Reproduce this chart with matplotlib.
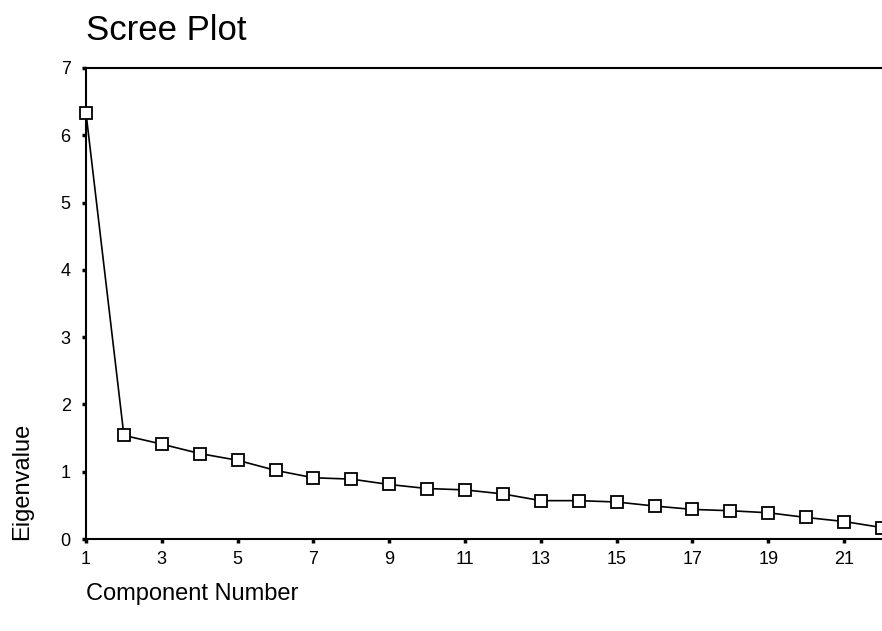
import matplotlib.pyplot as plt
import numpy as np

plt.rcParams["font.family"] = ["Liberation Sans", "DejaVu Sans"]

components = np.arange(1, 23)
eigenvalues = [6.33, 1.54, 1.41, 1.27, 1.17, 1.02, 0.91, 0.89, 0.81, 0.75, 0.73,
               0.67, 0.57, 0.57, 0.55, 0.49, 0.44, 0.42, 0.39, 0.32, 0.26, 0.17]
x_ticks = list(range(1, 23, 2))
y_ticks = list(range(0, 8))

W, H = 882, 631
fig = plt.figure(figsize=(W / 100, H / 100), dpi=100)
ax = fig.add_axes([86 / W, (H - 539) / H, 1 - 86 / W, (539 - 68) / H])

ax.plot(components, eigenvalues, color="black", linewidth=1.2,
        marker="s", markersize=8, markerfacecolor="white",
        markeredgecolor="black", markeredgewidth=1.3, clip_on=False, zorder=3)

ax.set_xlim(1, 22)
ax.set_ylim(0, 7)
ax.set_xticks(x_ticks)
ax.set_yticks(y_ticks)
ax.tick_params(axis="both", direction="out", length=3, width=2.5,
               labelsize=13, color="black")
ax.tick_params(axis="x", pad=6)
ax.tick_params(axis="y", pad=8)
ax.spines["right"].set_visible(False)
for side in ("left", "bottom", "top"):
    ax.spines[side].set_linewidth(1.5)

fig.text(86 / W, (H - 40) / H, "Scree Plot", fontsize=25, ha="left", va="baseline")
fig.text(86 / W, (H - 594) / H, "Component Number", fontsize=17, ha="left", va="center")
fig.text(22 / W, (H - 540) / H, "Eigenvalue", fontsize=17, rotation=90,
         ha="center", va="bottom")

fig.savefig("out.png", dpi=100)
